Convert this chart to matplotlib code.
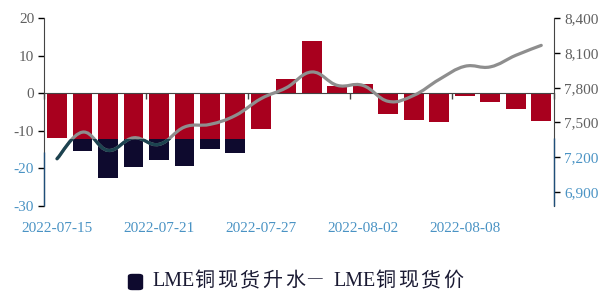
import numpy as np
import matplotlib
matplotlib.use("Agg")
import matplotlib.pyplot as plt
from matplotlib.path import Path
from matplotlib.patches import PathPatch, Rectangle, FancyBboxPatch

dates = ["2022-07-15", "2022-07-18", "2022-07-19", "2022-07-20", "2022-07-21",
         "2022-07-22", "2022-07-25", "2022-07-26", "2022-07-27", "2022-07-28",
         "2022-07-29", "2022-08-01", "2022-08-02", "2022-08-03", "2022-08-04",
         "2022-08-05", "2022-08-08", "2022-08-09", "2022-08-10", "2022-08-11"]
premium = [-12.0, -15.3, -22.7, -19.7, -17.8, -19.3, -14.9, -16.0, -9.5, 3.9,
           13.9, 2.0, 2.4, -5.5, -7.1, -7.8, -0.6, -2.3, -4.3, -7.3]
price = [7186, 7416, 7258, 7367, 7310, 7460, 7483, 7560, 7705, 7800,
         7936, 7820, 7820, 7682, 7734, 7872, 7985, 7980, 8080, 8166]
left_ticks = [-30, -20, -10, 0, 10, 20]
right_ticks = [6900, 7200, 7500, 7800, 8100, 8400]
label_every = 4
series_names = ["LME铜现货升水", "LME铜现货价"]

RED = "#a8001e"
NAVY = "#0e0a2e"
GRAY_LINE = "#8e8e8e"
TEAL = "#1c4350"
AX_GRAY = "#444444"
LBL_GRAY = "#606060"
BLUE_SP = "#1f4e79"
BLUE_LBL = "#4a93c4"
TXT = "#1a1a33"
THRESH = -12.3          # left-axis value where colour scheme switches
LSPINE_T = -15.6
FONT = ["Liberation Serif", "Noto Sans CJK SC", "DejaVu Sans"]

fig = plt.figure(figsize=(6.16, 2.93), dpi=100)
W, H = 616, 293
ax = fig.add_axes([44.3 / W, 1 - 205.7 / H, (554 - 44.3) / W, (205.7 - 18.3) / H])
ax2 = ax.twinx()

x = np.arange(len(dates))
ax.set_xlim(-0.5, len(dates) - 0.5)
ax.set_ylim(-30, 20)
ax2.set_ylim(6780, 8400)

# bars: red, with navy part below threshold
ax.bar(x, premium, width=0.78, color=RED, zorder=2)
clip = Rectangle((-1, -40), 30, 40 + THRESH, transform=ax.transData)
navy_bars = ax.bar(x, premium, width=0.78, color=NAVY, zorder=2.1)
for b in navy_bars:
    b.set_clip_path(clip)

# smooth line via bezier through data points
pts = np.column_stack([x, price]).astype(float)
k = 0.2
verts = [pts[0]]
codes = [Path.MOVETO]
n = len(pts)
for i in range(n - 1):
    p0 = pts[max(i - 1, 0)]
    p1 = pts[i]
    p2 = pts[i + 1]
    p3 = pts[min(i + 2, n - 1)]
    c1 = p1 + (p2 - p0) * k
    c2 = p2 - (p3 - p1) * k
    verts += [c1, c2, p2]
    codes += [Path.CURVE4] * 3
path = Path(verts, codes)
ax2.add_patch(PathPatch(path, fill=False, edgecolor=GRAY_LINE, lw=2.3,
                        capstyle="round", zorder=3))
teal = PathPatch(path, fill=False, edgecolor=TEAL, lw=2.3, capstyle="round", zorder=3.1)
ax2.add_patch(teal)
teal.set_clip_path(Rectangle((-1, -40), 30, 40 + THRESH, transform=ax.transData))

# spines
for a in (ax, ax2):
    a.spines["top"].set_visible(False)
    a.patch.set_visible(False)
ax2.spines["bottom"].set_visible(False)
ax2.spines["left"].set_visible(False)
ax.spines["right"].set_visible(False)
ax.spines["left"].set_color(AX_GRAY)
ax2.spines["right"].set_color(AX_GRAY)
ax.spines["bottom"].set_position(("data", 0))
ax.spines["bottom"].set_color(AX_GRAY)
ax.spines["bottom"].set_zorder(2.5)

# blue lower spine parts
ax.plot([0, 0], [-30, LSPINE_T], transform=ax.get_yaxis_transform(), color=BLUE_SP,
        lw=1.0, clip_on=False, zorder=5, solid_capstyle="butt")
ax2.plot([1, 1], [6780, 7365], transform=ax2.get_yaxis_transform(), color=BLUE_SP,
         lw=1.0, clip_on=False, zorder=5, solid_capstyle="butt")

# x ticks on zero line at category boundaries
bounds = np.arange(-0.5, len(dates), label_every)
ax.set_xticks(bounds)
ax.set_xticklabels([])
ax.tick_params(axis="x", length=4, direction="out", color=AX_GRAY, width=1)
trans = ax.get_xaxis_transform()
for i in range(0, len(dates), label_every):
    ax.text(x[i], -0.12, dates[i], transform=trans, ha="center", va="center",
            fontsize=11, family=FONT, color=BLUE_LBL)

ax.set_yticks(left_ticks)
ax.set_yticklabels([str(v) for v in left_ticks], family=FONT, fontsize=11)
ax.tick_params(axis="y", length=4.3, direction="out", width=1, pad=3)
for t, v in zip(ax.yaxis.get_major_ticks(), left_ticks):
    c_l = BLUE_LBL if v < LSPINE_T else LBL_GRAY
    c_t = BLUE_SP if v < LSPINE_T else AX_GRAY
    t.label1.set_color(c_l)
    t.tick1line.set_color(c_t)

ax2.set_yticks(right_ticks)
ax2.set_yticklabels([f"{v:,}" for v in right_ticks], family=FONT, fontsize=11)
ax2.tick_params(axis="y", length=4.3, direction="out", width=1, pad=3)
for t, v in zip(ax2.yaxis.get_major_ticks(), right_ticks):
    c_l = BLUE_LBL if v < 7365 else LBL_GRAY
    c_t = BLUE_SP if v < 7365 else AX_GRAY
    t.label2.set_color(c_l)
    t.tick2line.set_color(c_t)

# legend (letter-spaced like the reference)
fig.patches.append(FancyBboxPatch((128.5 / W, 1 - 289.5 / H), 14 / W, 15 / H,
                                  boxstyle="round,pad=0,rounding_size=0.006",
                                  transform=fig.transFigure, color=NAVY))
YL = 1 - 281.5 / H
def run(xpx, s, size=14.4):
    fig.text(xpx / W, YL, s, ha="left", va="center", fontsize=size, family=FONT, color=TXT)

def series_label(name, x0):
    latin = name[:3]
    run(x0, latin)
    cx = x0 + 42
    for ch in name[3:]:
        run(cx, ch)
        cx += 22.7
    return cx

series_label(series_names[0], 152)
fig.text(307 / W, 1 - 279 / H, "—", ha="left", va="center", fontsize=10.5,
         family=FONT, color=TXT)
series_label(series_names[1], 333)

fig.savefig("out.png", dpi=100)
